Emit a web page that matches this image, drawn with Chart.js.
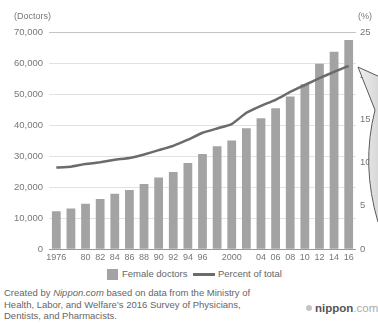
<!DOCTYPE html>
<html>
<head>
<meta charset="utf-8">
<script src="https://cdn.jsdelivr.net/npm/chart.js@4"></script>
<style>
  body { margin: 0; background: #fff; }
  #wrap { position: relative; width: 378px; height: 325px; overflow: hidden;
          font-family: "Liberation Sans", Arial, sans-serif; color: #777; }
  #wrap canvas { position: absolute; left: 0; top: 0; }
  .unit { position: absolute; top: 11px; font-size: 9px; color: #777; }
  .leg { position: absolute; top: 268px; font-size: 9.5px; color: #666; white-space: nowrap; }
  .legbox { position: absolute; top: 269px; left: 107px; width: 11px; height: 11px; background: #a3a3a3; }
  .legline { position: absolute; top: 273px; left: 193px; width: 22px; height: 3px; background: #6b6b6b; }
  #note { position: absolute; left: 4px; top: 287px; font-size: 9.5px; line-height: 11.5px; color: #666; }
  #logo { position: absolute; left: 306px; top: 302px; font-size: 11.5px; white-space: nowrap; }
  #logo .dot { display: inline-block; width: 6px; height: 6px; border-radius: 3px; background: #c4c4c4; margin-right: 3px; vertical-align: 1px; }
  #logo b { color: #555; }
  #logo span.com { color: #aaa; }
</style>
</head>
<body>
<div id="wrap">
  <canvas id="barChart" width="378" height="266"></canvas>
  <div class="unit" style="left:14px">(Doctors)</div>
  <div class="unit" style="left:358px">(%)</div>
  <div class="legbox"></div>
  <div class="leg" style="left:122px">Female doctors</div>
  <div class="legline"></div>
  <div class="leg" style="left:218px">Percent of total</div>
  <div id="note">Created by <i>Nippon.com</i> based on data from the Ministry of<br>Health, Labor, and Welfare’s 2016 Survey of Physicians,<br>Dentists, and Pharmacists.</div>
  <div id="logo"><span class="dot"></span><b>nippon</b><span class="com">.com</span></div>
</div>
<script>
var years = [1976, 1978, 1980, 1982, 1984, 1986, 1988, 1990, 1992, 1994, 1996,
             1998, 2000, 2002, 2004, 2006, 2008, 2010, 2012, 2014, 2016];
var tickLabels = ['1976', '', '80', '82', '84', '86', '88', '90', '92', '94', '96',
                  '', '2000', '', '04', '06', '08', '10', '12', '14', '16'];
var femaleDoctors = [12200, 13100, 14650, 16150, 17850, 19050, 21000, 23100, 24850, 27800, 30700,
                     33200, 35000, 39000, 42200, 45450, 49200, 53150, 59800, 63650, 67400];
var percentOfTotal = [9.4, 9.5, 9.8, 10.0, 10.3, 10.5, 10.9, 11.4, 11.9, 12.6, 13.4,
                      13.9, 14.4, 15.7, 16.5, 17.2, 18.1, 18.9, 19.7, 20.4, 21.1];

// grey callout shape on the right edge of the picture
var calloutPlugin = {
    id: 'callout',
    afterDraw: function(chart) {
        var ctx = chart.ctx;
        ctx.save();
        var g = ctx.createLinearGradient(358, 0, 378, 0);
        g.addColorStop(0, '#eeeeee');
        g.addColorStop(1, '#d9d9d9');
        ctx.beginPath();
        ctx.moveTo(358, 67);
        ctx.lineTo(380, 77);
        ctx.lineTo(380, 224);
        ctx.lineTo(378, 222);
        ctx.quadraticCurveTo(361, 165, 375, 110);
        ctx.closePath();
        ctx.fillStyle = g;
        ctx.fill();
        ctx.strokeStyle = '#5a5a5a';
        ctx.lineWidth = 1;
        ctx.stroke();
        ctx.restore();
    }
};

var ctx = document.getElementById('barChart').getContext('2d');

var myChart = new Chart(ctx, {
    type: 'bar',
    data: {
        labels: years,
        datasets: [{
            type: 'line',
            label: 'Percent of total',
            data: percentOfTotal,
            yAxisID: 'y1',
            borderColor: '#6b6b6b',
            borderWidth: 2.5,
            pointRadius: 0,
            tension: 0.1,
            order: 0
        }, {
            label: 'Female doctors',
            data: femaleDoctors,
            yAxisID: 'y',
            backgroundColor: '#a3a3a3',
            barPercentage: 0.6,
            categoryPercentage: 1,
            order: 1
        }]
    },
    options: {
        responsive: false,
        animation: false,
        layout: { padding: { top: 32, left: 0, right: 0, bottom: 0 } },
        plugins: {
            legend: { display: false },
            tooltip: { enabled: false }
        },
        scales: {
            x: {
                grid: { display: false, drawTicks: false },
                border: { display: false },
                ticks: {
                    autoSkip: false,
                    maxRotation: 0,
                    padding: 3,
                    color: '#777',
                    font: { family: 'Liberation Sans', size: 9 },
                    callback: function(v, i) { return tickLabels[i]; }
                }
            },
            y: {
                position: 'left',
                min: 0,
                max: 70000,
                border: { display: false },
                grid: {
                    drawTicks: false,
                    color: function(c) {
                        if (c.tick.value === 0) return '#9a9a9a';
                        if (c.tick.value === 70000) return '#c4c4c4';
                        return '#e2e2e2';
                    }
                },
                ticks: {
                    stepSize: 10000,
                    padding: 6,
                    color: '#777',
                    font: { family: 'Liberation Sans', size: 9.5 },
                    callback: function(v) { return v.toLocaleString('en-US'); }
                },
                afterFit: function(s) { s.width = 49; }
            },
            y1: {
                position: 'right',
                min: 0,
                max: 25,
                border: { display: false },
                grid: { drawOnChartArea: false, drawTicks: false },
                ticks: {
                    stepSize: 5,
                    padding: 4,
                    color: '#777',
                    font: { family: 'Liberation Sans', size: 9.5 }
                },
                afterFit: function(s) { s.width = 22; }
            }
        }
    },
    plugins: [calloutPlugin]
});
</script>
</body>
</html>
